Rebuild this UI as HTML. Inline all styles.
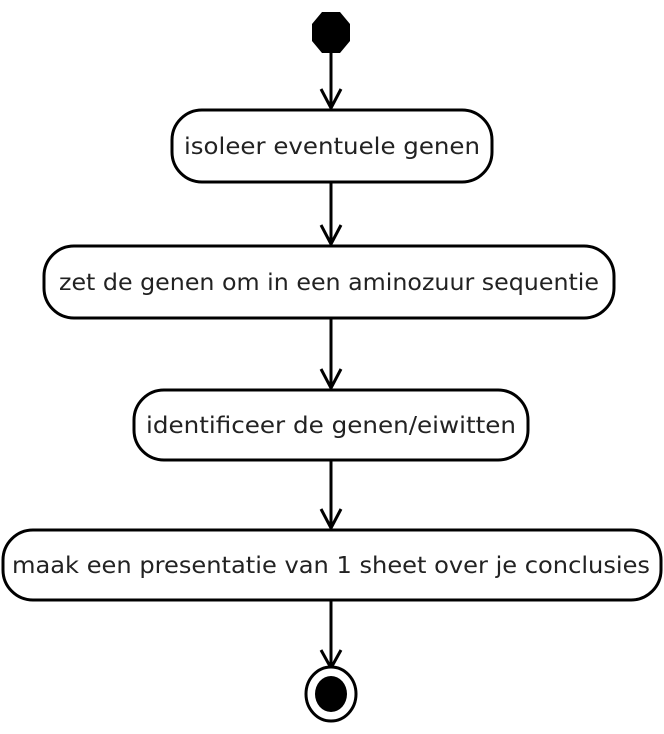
<!DOCTYPE html>
<html><head><meta charset="utf-8"><style>
html,body{margin:0;padding:0;background:#fff;}
svg{display:block;}
text{font-family:"DejaVu Sans","Liberation Sans",sans-serif;font-size:23px;fill:#222;}
</style></head><body>
<svg width="664" height="734" viewBox="0 0 664 734" xmlns="http://www.w3.org/2000/svg">
<polygon points="322,12 340,12 350,24 350,41 340,53 322,53 312,41 312,24" fill="#000"/>
<g stroke="#000" stroke-width="3" fill="none">
<line x1="331" y1="52" x2="331" y2="108"/><polyline points="321,89 331,108 341,89"/>
<line x1="331" y1="182" x2="331" y2="244"/><polyline points="321,225 331,244 341,225"/>
<line x1="331" y1="318" x2="331" y2="388"/><polyline points="321,369 331,388 341,369"/>
<line x1="331" y1="460" x2="331" y2="528"/><polyline points="321,509 331,528 341,509"/>
<line x1="331" y1="600" x2="331" y2="668"/><polyline points="321,650 331,668 341,650"/>
<rect x="172" y="110" width="320" height="72" rx="30" fill="#fff"/>
<rect x="44" y="246" width="570" height="72" rx="30" fill="#fff"/>
<rect x="134" y="390" width="394" height="70" rx="30" fill="#fff"/>
<rect x="3" y="530" width="658" height="70" rx="30" fill="#fff"/>
<ellipse cx="331" cy="694" rx="25" ry="27" fill="#fff"/>
</g>
<ellipse cx="331" cy="694" rx="16" ry="18" fill="#000"/>
<text x="332" y="154" text-anchor="middle" textLength="296" lengthAdjust="spacingAndGlyphs">isoleer eventuele genen</text>
<text x="329" y="290" text-anchor="middle" textLength="540" lengthAdjust="spacingAndGlyphs">zet de genen om in een aminozuur sequentie</text>
<text x="331" y="433" text-anchor="middle" textLength="370" lengthAdjust="spacingAndGlyphs">identificeer de genen/eiwitten</text>
<text x="331" y="573" text-anchor="middle" textLength="638" lengthAdjust="spacingAndGlyphs">maak een presentatie van 1 sheet over je conclusies</text>
</svg>
</body></html>
